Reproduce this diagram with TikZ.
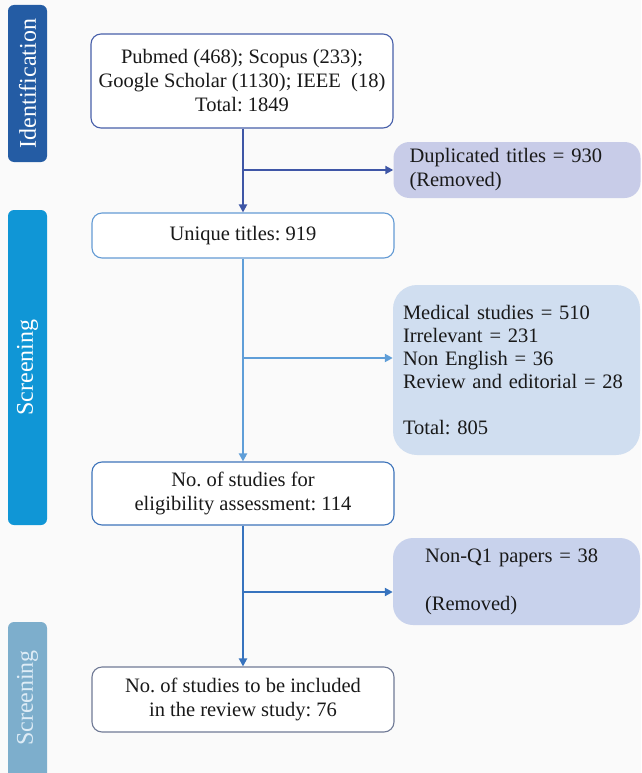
\documentclass[tikz,border=0pt]{standalone}
\usepackage{fontspec}
\setmainfont{Liberation Serif}
\usetikzlibrary{arrows.meta}
\definecolor{tabA}{RGB}{36,92,164}
\definecolor{tabB}{RGB}{16,150,214}
\definecolor{tabC}{RGB}{125,174,204}
\definecolor{tabCtext}{RGB}{222,236,246}
\definecolor{lnA}{RGB}{62,86,166}
\definecolor{lnB}{RGB}{95,158,216}
\definecolor{lnC}{RGB}{55,115,190}
\definecolor{bdA}{RGB}{72,96,170}
\definecolor{bdB}{RGB}{100,155,212}
\definecolor{bdC}{RGB}{62,116,186}
\definecolor{bdD}{RGB}{112,122,150}
\definecolor{fillDup}{RGB}{200,204,232}
\definecolor{fillMed}{RGB}{208,222,240}
\definecolor{fillQ}{RGB}{200,210,236}
\definecolor{txt}{RGB}{25,25,25}
\begin{document}
\frenchspacing
\begin{tikzpicture}[x=1pt,y=-1pt,
  every node/.style={font=\fontsize{20.5}{24}\selectfont, text=txt},
  tabbox/.style={rounded corners=6pt, rotate=90, minimum height=39pt, inner sep=0pt},
  tablabel/.style={rotate=90, text=white, font=\fontsize{24}{24}\selectfont},
  mainbox/.style={draw, rounded corners=10pt, line width=1.1pt, fill=white, minimum width=302pt, align=center, inner sep=0pt},
  sidebox/.style={rounded corners=16pt, align=left, inner ysep=0pt},
  conn/.style={line width=2pt, -{Triangle[length=8pt,width=8pt]}}]
\clip (0,0) rectangle (641,773);
\fill[white!98!black] (0,0) rectangle (641,773);
% stage tabs
\node[tabbox, fill=tabA, minimum width=157pt] (tabid) at (27.5,83.5) {};
\node[tablabel] (tabidl) at (tabid.center) {Identification};
\node[tabbox, fill=tabB, minimum width=315pt] (tabsc) at (27.5,367.5) {};
\node[tablabel] (tabscl) at (tabsc.center) {Screening};
\node[tabbox, fill=tabC, minimum width=190pt] (tabsc2) at (27.5,717) {};
\node[tablabel, text=tabCtext] (tabsc2l) at (27.5,698) {Screening};
% main boxes
\node[mainbox, draw=bdA, minimum height=94pt] (box1) at (242,81)
  {Pubmed (468); Scopus (233);\\ Google Scholar (1130); IEEE~~(18)\\ Total: 1849};
\node[mainbox, draw=bdB, minimum height=45pt] (unique) at (243,235.5) {Unique titles: 919};
\node[mainbox, draw=bdC, minimum height=63pt] (elig) at (243,493.5)
  {No. of studies for\\ eligibility assessment: 114};
\node[mainbox, draw=bdD, minimum height=65pt] (final) at (243,699.5)
  {No. of studies to be included\\ in the review study: 76};
% side boxes
\node[sidebox, fill=fillDup, minimum height=56pt, inner xsep=16pt, text width=215pt] (dup) at (517,170)
  {Duplicated titles = 930\\ (Removed)};
\node[sidebox, fill=fillMed, minimum height=170pt, inner xsep=10pt, text width=227pt, rounded corners=24pt,
  font=\fontsize{20.5}{23}\selectfont] (med) at (516.5,370)
  {Medical studies = 510\\ Irrelevant = 231\\ Non English = 36\\ Review and editorial = 28\\[23pt] Total: 805};
\node[sidebox, fill=fillQ, minimum height=87pt, inner xsep=32pt, text width=183pt, rounded corners=20pt] (nonq) at (516.5,581.5)
  {Non-Q1 papers = 38\\[24pt] (Removed)};
% connectors
\coordinate (j1) at (243,170);
\coordinate (j2) at (243,358);
\coordinate (j3) at (243,592);
\draw[conn, lnA] (box1.south -| unique.north) -- (unique.north);
\draw[conn, lnA] (j1) -- (dup.west);
\draw[conn, lnB] (unique.south) -- (elig.north);
\draw[conn, lnB] (j2) -- (j2 -| med.west);
\draw[conn, lnC] (elig.south) -- (final.north);
\draw[conn, lnC] (j3) -- (j3 -| nonq.west);
\end{tikzpicture}
\end{document}
